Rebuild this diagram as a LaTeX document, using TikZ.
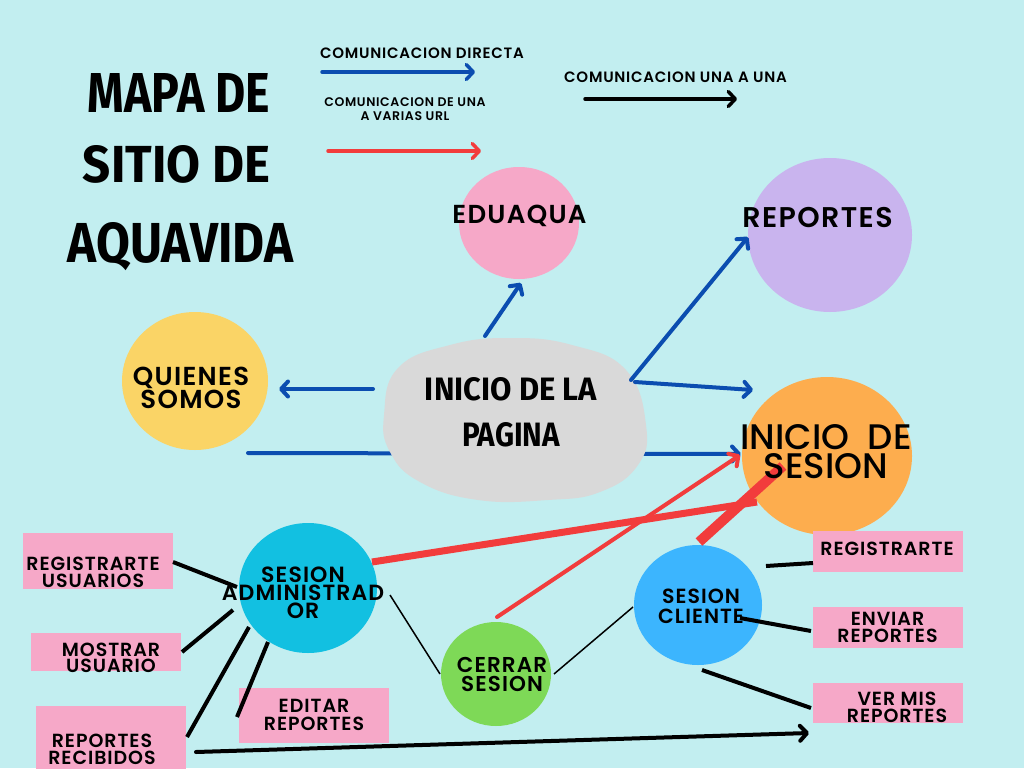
\documentclass[tikz,border=0pt]{standalone}
\usepackage{fontspec}
\setmainfont{Poppins}
\newfontfamily\lblfont{Poppins SemiBold}[LetterSpace=5]
\newfontfamily\bigfont{Poppins Medium}
\newfontfamily\titlefont{Fira Sans}
\usetikzlibrary{arrows.meta,calc,shapes.geometric}
\definecolor{bg}{HTML}{C2EEF0}
\definecolor{blu}{HTML}{0B4DB0}
\definecolor{rd}{HTML}{F23C3C}
\definecolor{greyc}{HTML}{D9D9D9}
\definecolor{pinkc}{HTML}{F6A8C8}
\definecolor{lilac}{HTML}{C9B4EE}
\definecolor{yel}{HTML}{FAD466}
\definecolor{orng}{HTML}{FDAD4E}
\definecolor{cyn}{HTML}{12C0E1}
\definecolor{grn}{HTML}{7ED957}
\definecolor{cblue}{HTML}{3CB5FE}
\begin{document}
\begin{tikzpicture}[x=1pt,y=-1pt,
  circ/.style={ellipse, inner sep=0pt, draw=none},
  box/.style={rectangle, inner sep=0pt, draw=none, fill=pinkc, minimum width=150pt},
  arr/.style={-{Straight Barb[length=7pt,width=15pt,round]}},
  blueln/.style={draw=blu, line width=4pt, line cap=round},
  redln/.style={draw=rd, line width=4pt, line cap=butt},
  blkln/.style={draw=black, line width=4pt},
  thinln/.style={draw=black, line width=1.5pt},
  txt/.style={inner sep=0pt, align=center, text=black},
  fs/.style n args={2}{font=\lblfont\fontsize{#1}{#2}\selectfont}
]
\fill[bg] (0,0) rectangle (1024,768);
\useasboundingbox (0,0) rectangle (1024,768);

% ---- title ----
\node[txt, anchor=base] (t1) at (179,112) {\resizebox{182pt}{39pt}{\titlefont\bfseries MAPA DE}};
\node[txt, anchor=base] (t2) at (176.5,182) {\resizebox{187pt}{37pt}{\titlefont\bfseries SITIO DE}};
\node[txt, anchor=base] (t3) at (180.5,262) {\resizebox{225pt}{40pt}{\titlefont\bfseries AQUAVIDA}};

% ---- legend ----
\node[txt, fs={15}{16}] (lg1) at (422,53.5) {COMUNICACION DIRECTA};
\coordinate (l1a) at (322,72); \coordinate (l1b) at (475,72);
\draw[blueln, line width=3.5pt, arr] (l1a) -- (l1b);
\node[txt, fs={12.5}{14}] (lg2) at (405,109.5) {COMUNICACION DE UNA\\A VARIAS URL};
\coordinate (l2a) at (328,151); \coordinate (l2b) at (481,151);
\draw[redln, line width=3.5pt, line cap=round, arr] (l2a) -- (l2b);
\node[txt, fs={15}{16}] (lg3) at (675.5,77.5) {COMUNICACION UNA A UNA};
\coordinate (l3a) at (585,99); \coordinate (l3b) at (737,99);
\draw[blkln, line width=3.5pt, line cap=round, arr] (l3a) -- (l3b);

% ---- shapes ----
\coordinate (ini) at (515,420);
\node[circ, fill=pinkc, minimum width=120pt, minimum height=112pt] (edu) at (519,223) {};
\node[circ, fill=lilac, minimum width=164pt, minimum height=154pt] (rep) at (830,235) {};
\node[circ, fill=yel, minimum width=146pt, minimum height=138pt] (qui) at (195,381) {};
\node[circ, fill=orng, minimum width=170pt, minimum height=158pt] (ses) at (827,456) {};
\node[circ, fill=cyn, minimum width=138pt, minimum height=130pt] (adm) at (308,588) {};
\node[circ, fill=grn, minimum width=110pt, minimum height=104pt] (cer) at (496,674) {};
\node[circ, fill=cblue, minimum width=128pt, minimum height=120pt] (cli) at (698,605) {};

\node[box, minimum height=56pt] (ru) at (97.5,561) {};
\node[box, minimum height=38pt] (mu) at (105.5,652) {};
\node[box, minimum height=64pt] (rr) at (111,738) {};
\node[box, minimum height=55pt] (er) at (314,715.5) {};
\node[box, minimum height=41pt] (rg) at (888,551.5) {};
\node[box, minimum height=41pt] (en) at (888,627.5) {};
\node[box, minimum height=40pt] (vm) at (888,703) {};

% blue line behind the blob
\draw[blueln, arr] ($(qui)+(53,72)$) -- ($(ses)+(-86,-2)$);
% blob
\fill[greyc] plot[smooth cycle, tension=0.75] coordinates {
  (384,415) (398,368) (450,345) (510,338) (572,345) (626,370)
  (646,425) (638,465) (600,492) (548,500) (478,500) (420,482) (390,452)};

% ---- blue connectors ----
\draw[blueln, arr] ($(ini)+(-30,-84)$) -- ($(edu)+(2,60)$);
\draw[blueln, arr] ($(ini)+(116,-40)$) -- ($(rep)+(-82,2)$);
\draw[blueln, arr] ($(ini)+(120,-38)$) -- ($(ses)+(-74,-66)$);
\draw[blueln, arr] ($(ini)+(-142,-31)$) -- ($(qui)+(84,8)$);

% ---- red connectors ----
\draw[redln, line width=7pt] ($(adm)+(64,-26)$) -- ($(ses)+(-70,46)$);
\draw[redln, line cap=round, arr] ($(cer)+(1,-57)$) -- ($(ses)+(-87,-1)$);
\draw[redln, line width=10pt] ($(cli)+(1,-63)$) -- ($(ses)+(-44,10)$);

% ---- black connectors ----
\draw[blkln] ($(ru)+(75.5,1)$) -- ($(adm)+(-71,-1)$);
\draw[blkln] ($(mu)+(76.5,0)$) -- ($(adm)+(-75,22)$);
\draw[blkln] ($(rr)+(76,-1)$) -- ($(adm)+(-59,39)$);
\draw[blkln] ($(er)+(-77,1.5)$) -- ($(adm)+(-40,54)$);
\draw[thinln] ($(adm)+(82,7)$) -- ($(cer)+(-56,0)$);
\draw[thinln] ($(cer)+(58,0)$) -- ($(cli)+(-65,2)$);
\draw[blkln] ($(cli)+(68,-39)$) -- ($(rg)+(-75,11.5)$);
\draw[blkln] ($(cli)+(42,13)$) -- ($(en)+(-77,3.5)$);
\draw[blkln] ($(cli)+(4,65)$) -- ($(vm)+(-77,5)$);
\draw[blkln, line cap=round, arr] ($(rr)+(85,14)$) -- ($(vm)+(-79,30)$);

% ---- texts ----
\node[txt, anchor=base] (ini-t1) at (511,400) {\resizebox{172pt}{23pt}{\titlefont\bfseries INICIO DE LA}};
\node[txt, anchor=base] (ini-t2) at (511,446) {\resizebox{98pt}{24pt}{\titlefont\bfseries PAGINA}};
\node[txt, fs={26}{26}] (edu-t) at (519.5,215.5) {EDUAQUA};
\node[txt, fs={28.5}{30}] (rep-t) at (817.5,218) {REPORTES};
\node[txt, fs={26}{21}] (qui-t) at (191,388) {QUIENES\\SOMOS};
\node[txt, font=\bigfont\fontsize{35.5}{29}\selectfont] (ses-t) at (826,452) {INICIO\ \ DE\\SESION};
\node[txt, fs={22}{18}] (adm-t) at (303,593) {SESION\\ADMINISTRAD\\OR};
\node[txt, fs={21.5}{19}] (cer-t) at (502,674) {CERRAR\\SESION};
\node[txt, fs={20.5}{20}] (cli-t) at (701,606) {SESION\\CLIENTE};
\node[txt, fs={19}{17}] (ru-t) at (93,572) {REGISTRARTE\\USUARIOS};
\node[txt, fs={19}{16}] (mu-t) at (111,658) {MOSTRAR\\USUARIO};
\node[txt, fs={19}{17}] (rr-t) at (102,749) {REPORTES\\RECIBIDOS};
\node[txt, fs={19}{18}] (er-t) at (314,714.5) {EDITAR\\REPORTES};
\node[txt, fs={19}{17}] (rg-t) at (887,548.5) {REGISTRARTE};
\node[txt, fs={19}{17}] (en-t) at (887.5,627) {ENVIAR\\REPORTES};
\node[txt, fs={19}{17}] (vm-t) at (897,707) {VER MIS\\REPORTES};
\end{tikzpicture}
\end{document}
